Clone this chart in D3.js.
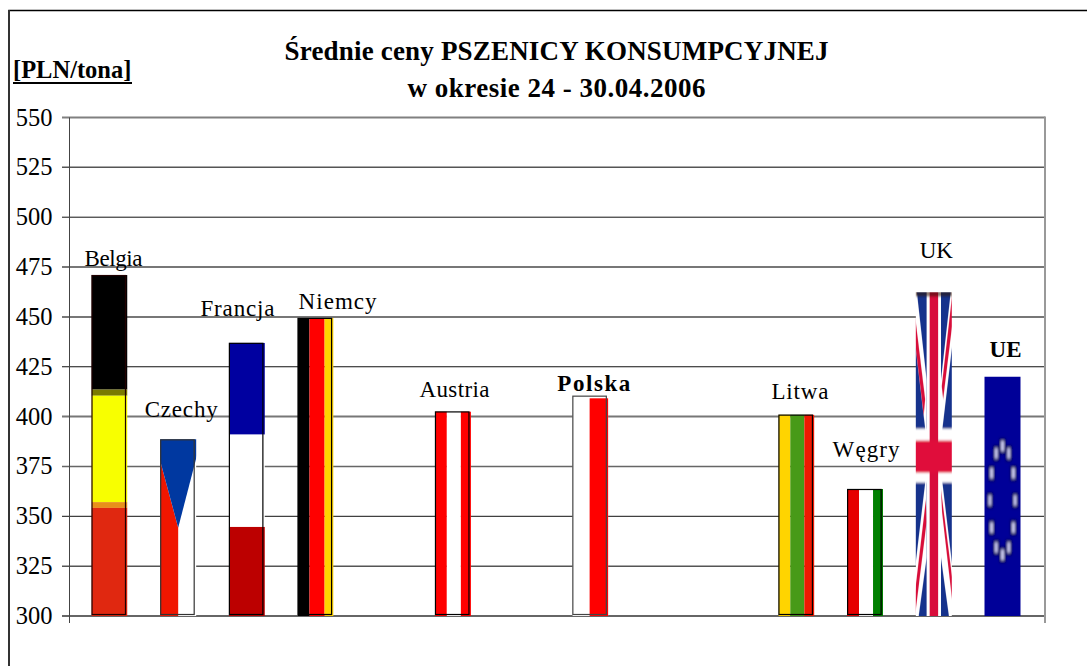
<!DOCTYPE html>
<html><head><meta charset="utf-8">
<script src="https://cdnjs.cloudflare.com/ajax/libs/d3/7.8.5/d3.min.js"></script>
<style>html,body{margin:0;padding:0;background:#fff}svg{display:block}text{font-family:"Liberation Serif",serif;fill:#000}</style>
</head><body><svg id="c" width="1087" height="666"></svg>
<script>
const slots = ["Belgia","Czechy","Francja","Niemcy","_a","Austria","_b","Polska","_c","_d","Litwa","Węgry","UK","UE"];
const categories = ["Belgia","Czechy","Francja","Niemcy","Austria","Polska","Litwa","Węgry","UK","UE"];
const values = [471,388.6,437,449.5,402.6,410.5,401,363.7,462.3,420];
const boldLabels = ["Polska","UE"];
const tickValues = [300,325,350,375,400,425,450,475,500,525,550];
const titleLines = ["Średnie ceny PSZENICY KONSUMPCYJNEJ","w okresie 24 - 30.04.2006"];
const unitLabel = "[PLN/tona]";

const svg = d3.select("#c");
const L=69,R=1045,T=117.5,B=616;
const y = d3.scaleLinear().domain([300,550]).range([B,T]);
const x = d3.scaleBand().domain(slots).range([75.15,1036.85]).paddingInner(0.476).paddingOuter(0.238);

const defs = svg.append("defs");
const soft = (id,dx,dy)=>defs.append("filter").attr("id",id).attr("x","-10%").attr("y","-10%").attr("width","120%").attr("height","120%")
  .append("feGaussianBlur").attr("stdDeviation",dx+" "+dy);
soft("softUK",2.2,0.35); soft("softUE",2.6,0.6); soft("softCZ",1.2,0.3);

// frame
svg.append("path").attr("d","M9,666V10.5H1087").attr("fill","none").attr("stroke","#000").attr("stroke-width",1.5);
svg.append("line").attr("x1",9).attr("x2",9).attr("y1",10).attr("y2",666).attr("stroke","#333").attr("stroke-width",2);

// grid
const gridStyle = {300:["#666",2],325:["#555",1.5],350:["#111",1],375:["#666",1.5],400:["#777",2],425:["#111",1],450:["#777",2],475:["#777",2],500:["#111",1],525:["#555",1.5],550:["#808080",2]};
svg.append("g").selectAll("line").data(tickValues).join("line")
  .attr("x1",L-7).attr("x2",R).attr("y1",d=>y(d)).attr("y2",d=>y(d))
  .attr("stroke",d=>gridStyle[d][0]).attr("stroke-width",d=>gridStyle[d][1]);
svg.append("line").attr("x1",L+.5).attr("x2",L+.5).attr("y1",T).attr("y2",623).attr("stroke","#444");
svg.append("line").attr("x1",R).attr("x2",R).attr("y1",T-1).attr("y2",623).attr("stroke","#999").attr("stroke-width",2);

// tick labels
svg.append("g").selectAll("text").data(tickValues).join("text")
  .attr("x",52.5).attr("y",d=>y(d)+8).attr("text-anchor","end").attr("font-size",24.5).text(d=>d);

// flag drawings in a 0-100 box, stretched to the bar
const stripesH = (g,cols,stops)=>cols.forEach((c,i)=>g.append("rect").attr("x",stops[i]).attr("y",0).attr("width",stops[i+1]-stops[i]).attr("height",100).attr("fill",c));
const stripesV = (g,cols,stops)=>cols.forEach((c,i)=>g.append("rect").attr("y",stops[i]).attr("x",0).attr("height",stops[i+1]-stops[i]).attr("width",100).attr("fill",c));
const poly=(g,p,c)=>g.append("polygon").attr("points",p).attr("fill",c);
const bg=(g,c)=>g.append("rect").attr("x",-20).attr("y",-20).attr("width",140).attr("height",140).attr("fill",c);
const flags = {
  "Belgia":g=>stripesV(g,["#000","#7a7a00","#f8ff00","#e8901a","#e02810"],[0,33.6,35.4,66.6,68.3,100]),
  "Czechy":g=>{bg(g,"#fff");
    poly(g,"-20,-3 50,50 50,120 -20,120","#f01800");
    poly(g,"-20,-20 120,-20 120,-5 50,50 -20,-3","#0038a0");},
  "Francja":g=>stripesV(g,["#0000a0","#fff","#bc0000"],[0,33.6,67.4,100]),
  "Niemcy":g=>stripesH(g,["#000","#ff0000","#ffd400"],[0,33,75,100]),
  "Austria":g=>stripesH(g,["#ff0000","#fff","#ff0000"],[0,33,72,100]),
  "Polska":g=>{stripesH(g,["#fff"],[0,100]);g.append("rect").attr("x",48).attr("y",1.2).attr("width",52).attr("height",98.8).attr("fill","#ff0000");},
  "Litwa":g=>stripesH(g,["#ffd400","#489a18","#f01800"],[0,33,72,100]),
  "Węgry":g=>stripesH(g,["#e60000","#fff","#008000"],[0,33,72,100]),
  "UK":g=>{bg(g,"#17338c");
    // white diagonals
    poly(g,"-3,-6 30,27 30,43 27,43 -20,-1.5 -20,-6","#fff");
    poly(g,"70,27 103,-6 120,-6 120,-1.5 73,43 70,43","#fff");
    poly(g,"30,58 27,58 -20,102 -20,120 0,120 8,100 30,82","#fff");
    poly(g,"70,58 73,58 120,102 120,120 100,120 92,100 70,82","#fff");
    // red diagonals
    poly(g,"-10,0 26,33 22,38 -10,8","#d8103a");
    poly(g,"110,-8 110,2 76,33 72,29","#d8103a");
    poly(g,"28,64 -10,100 -10,107 30,71","#d8103a");
    poly(g,"70,61 110,96 110,104 73,68","#d8103a");
    // cross
    g.append("rect").attr("x",30).attr("y",-20).attr("width",40).attr("height",140).attr("fill","#fff");
    g.append("rect").attr("x",-20).attr("y",42.1).attr("width",140).attr("height",16.7).attr("fill","#fff");
    g.append("rect").attr("x",38.5).attr("y",-20).attr("width",23.5).attr("height",140).attr("fill","#d8103a");
    g.append("rect").attr("x",-20).attr("y",45.8).attr("width",140).attr("height",9.9).attr("fill","#e0103a");
    // darker top edge seen in the picture
    g.append("rect").attr("x",-20).attr("y",-20).attr("width",140).attr("height",21.3).attr("fill","#301000").attr("opacity",.55);
  },
  "UE":g=>{bg(g,"#000098");
    const pts=d3.range(12).map(i=>[50+35*Math.sin(i*Math.PI/6),51.7-22.7*Math.cos(i*Math.PI/6)]);
    pts.forEach(p=>g.append("rect").attr("x",p[0]-9).attr("y",p[1]-3.4).attr("width",18).attr("height",6.8).attr("fill","#000060"));
    pts.forEach(p=>g.append("rect").attr("x",p[0]-4).attr("y",p[1]-2.2).attr("width",8).attr("height",4.4).attr("fill","#d0d0f4"));
  }
};
const softFilter = {"UK":"softUK","UE":"softUE","Czechy":"softCZ"};
const frameColor = {"Belgia":"#200000","Czechy":"#333","Francja":"#000","Niemcy":"#000","Austria":"#000","Polska":"#444","Litwa":"#000","Węgry":"#000"};

categories.forEach((name,i)=>{
  const v=values[i], bx=x(name), bw=x.bandwidth(), by=y(v), bh=y(300)-by;
  const s=svg.append("svg").attr("x",bx).attr("y",by).attr("width",bw).attr("height",bh)
    .attr("viewBox","0 0 100 100").attr("preserveAspectRatio","none");
  const g=s.append("g");
  if(softFilter[name]) g.attr("filter","url(#"+softFilter[name]+")");
  flags[name](g);
  if(frameColor[name]){
    svg.append("rect").attr("x",bx+.5).attr("y",by+.5).attr("width",bw-2.5).attr("height",bh-2)
      .attr("fill","none").attr("stroke",frameColor[name]).attr("stroke-width",1.2);
  }
});

// labels: [dx from bar centre, dy from bar top, width]
const labelPlace={"Belgia":[4,-9.5,58],"Czechy":[3,-22,73],"Francja":[-9.4,-27,74],"Niemcy":[22,-9,78],"Austria":[1.5,-14,70],"Polska":[3.5,-5,73],"Litwa":[3.5,-16,57],"Węgry":[1,-32,67],"UK":[2.5,-34,33],"UE":[3,-20,32]};
categories.forEach((name,i)=>{
  const o=labelPlace[name];
  svg.append("text").attr("x",x(name)+x.bandwidth()/2+o[0]).attr("y",y(values[i])+o[1])
    .attr("text-anchor","middle").attr("font-size",23)
    .attr("textLength",o[2]).attr("lengthAdjust","spacing")
    .attr("font-weight",boldLabels.includes(name)?"bold":"normal").text(name);
});

// title
const titleWidths=[544,298];
svg.selectAll("text.t").data(titleLines).join("text").attr("class","t")
  .attr("x",556.5).attr("y",(d,i)=>60+i*37).attr("text-anchor","middle")
  .attr("font-size",27).attr("font-weight","bold")
  .attr("textLength",(d,i)=>titleWidths[i]).attr("lengthAdjust","spacing").text(d=>d);
svg.append("text").attr("x",13).attr("y",78).attr("font-size",24.5).attr("font-weight","bold").text(unitLabel);
svg.append("line").attr("x1",13).attr("x2",132).attr("y1",83).attr("y2",83).attr("stroke","#000").attr("stroke-width",2);
</script></body></html>
